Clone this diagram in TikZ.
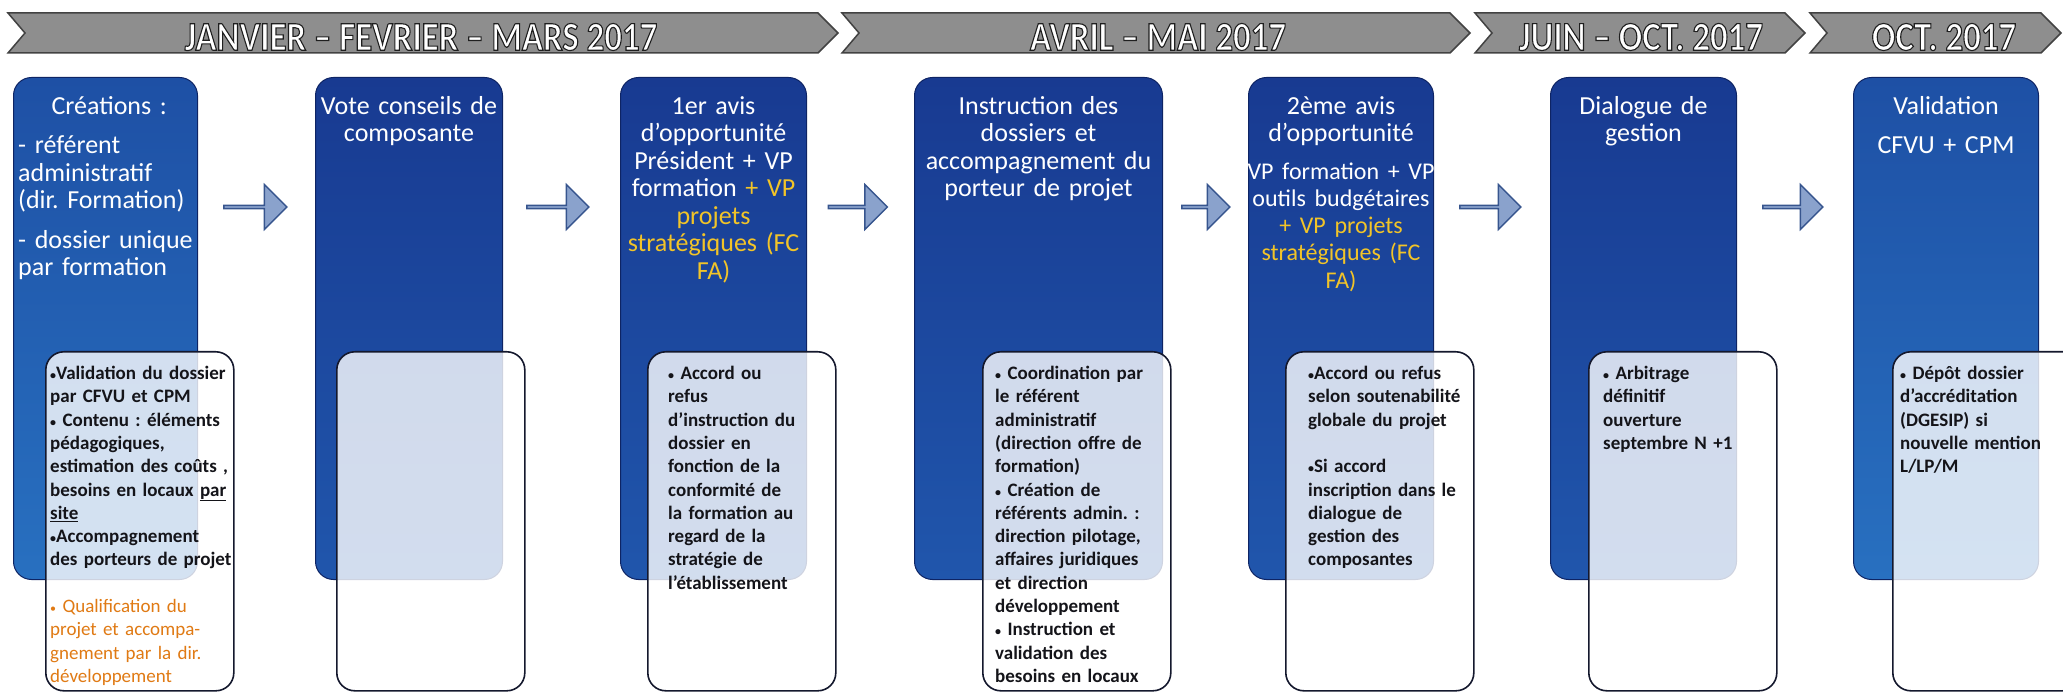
\documentclass[tikz,border=0pt]{standalone}
\usepackage{fontspec}
\setmainfont{Carlito}
\newfontfamily\bannerfont[FakeStretch=0.85]{Carlito}
\usetikzlibrary{shapes.arrows,calc}
\frenchspacing
\definecolor{boxtop}{RGB}{24,58,145}
\definecolor{boxbot}{RGB}{32,86,172}
\definecolor{boxtopL}{RGB}{30,80,165}
\definecolor{boxbotL}{RGB}{40,112,192}
\definecolor{boxedge}{RGB}{14,36,100}
\definecolor{cardedge}{RGB}{20,24,45}
\definecolor{cardtext}{RGB}{20,20,25}
\definecolor{yel}{RGB}{242,196,40}
\definecolor{orng}{RGB}{224,122,20}
\definecolor{bannerfill}{RGB}{142,142,142}
\definecolor{banneredge}{RGB}{66,66,66}
\definecolor{arrowfill}{RGB}{138,162,204}
\definecolor{arrowedge}{RGB}{55,85,142}
\newcommand\outlined[1]{\special{pdf:literal direct 2 Tr 1.1 w 0.12 0.12 0.12 RG}#1\special{pdf:literal direct 0 Tr}}
\newcommand\bu{{\fontsize{12}{12}\selectfont•}}
\tikzset{
  bannerpath/.style={fill=bannerfill, draw=banneredge, line width=1.5pt, line join=miter},
  bannertxt/.style={font=\bannerfont\bfseries\fontsize{41}{44}\selectfont, text=white, inner sep=0pt},
  bluebox/.style={draw=boxedge, line width=1pt, rounded corners=18pt, top color=boxtop, bottom color=boxbot, minimum width=#1, minimum height=502pt, inner sep=0pt, anchor=north west},
  lightbox/.style={top color=boxtopL, bottom color=boxbotL},
  cardbox/.style={draw=cardedge, line width=1.6pt, rounded corners=18pt, fill=white, fill opacity=0.8, draw opacity=1, minimum width=188pt, minimum height=339pt, inner sep=0pt, anchor=north west},
  titletxt/.style={text=white, font=\fontsize{26}{27.5}\selectfont, text width=230pt, align=center, inner sep=0pt, anchor=north},
  cardtxt/.style={text=cardtext, font=\fontsize{19}{23.3}\selectfont\bfseries, text width=230pt, align=left, inner sep=0pt, anchor=north west},
  blockarrow/.style={single arrow, single arrow head extend=9pt, minimum width=45pt, inner sep=0pt, fill=arrowfill, draw=arrowedge, line width=1.4pt}
}
\begin{document}
\begin{tikzpicture}[x=1pt,y=-1pt]
\useasboundingbox (0,0) rectangle (2063,692);
\clip (0,0) rectangle (2063,692);
% banner
\path[bannerpath] (8,13) -- (818,13) -- (838,33) -- (818,53) -- (8,53) -- (25,33) -- cycle;
\path[bannerpath] (842,13) -- (1450,13) -- (1470,33) -- (1450,53) -- (842,53) -- (859,33) -- cycle;
\path[bannerpath] (1475,13) -- (1785,13) -- (1805,33) -- (1785,53) -- (1475,53) -- (1492,33) -- cycle;
\path[bannerpath] (1810,13) -- (2041,13) -- (2061,33) -- (2041,53) -- (1810,53) -- (1827,33) -- cycle;
\node[bannertxt] (t1) at (421,37) {\outlined{JANVIER – FEVRIER – MARS 2017}};
\node[bannertxt] (t2) at (1158,37) {\outlined{AVRIL – MAI 2017}};
\node[bannertxt] (t3) at (1641,37) {\outlined{JUIN – OCT. 2017}};
\node[bannertxt] (t4) at (1944,37) {\outlined{OCT. 2017}};
% blue boxes
\node[bluebox=184pt, lightbox] (b1) at (13,77) {};
\node[bluebox=187pt] (b2) at (315,77) {};
\node[bluebox=186pt] (b3) at (620,77) {};
\node[bluebox=248pt] (b4) at (914,77) {};
\node[bluebox=185pt] (b5) at (1248,77) {};
\node[bluebox=186pt] (b6) at (1550,77) {};
\node[bluebox=185pt, lightbox] (b7) at (1853,77) {};
% titles
\node[titletxt, text width=182pt, align=left, anchor=north west] (b1t) at ($(b1.north west)+(5,19)$)
  {{\centering Créations :\par}\vspace{12pt}- référent\\administratif\\(dir. Formation)\par\vspace{12pt}- dossier unique\\par formation};
\node[titletxt] (b2t) at ($(b2.north)+(0,19)$) {Vote conseils de\\composante};
\node[titletxt] (b3t) at ($(b3.north)+(0,19)$) {1er avis\\d’opportunité\\Président + VP\\formation \textcolor{yel}{+ VP}\\\textcolor{yel}{projets\\stratégiques (FC\\FA)}};
\node[titletxt] (b4t) at ($(b4.north)+(0,19)$) {Instruction des\\dossiers et\\accompagnement du\\porteur de projet};
\node[titletxt] (b5t) at ($(b5.north)+(0,19)$) {2ème avis\\d’opportunité\par\vspace{11pt}\fontsize{24}{27}\selectfont VP formation + VP\\outils budgétaires\\\textcolor{yel}{+ VP projets\\stratégiques (FC\\FA)}};
\node[titletxt] (b6t) at ($(b6.north)+(0,19)$) {Dialogue de\\gestion};
\node[titletxt] (b7t) at ($(b7.north)+(0,19)$) {Validation\par\vspace{12pt}CFVU + CPM};
% arrows
\node[blockarrow, minimum height=63pt] (a1) at (254.5,207) {};
\node[blockarrow, minimum height=62pt] (a2) at (557,207) {};
\node[blockarrow, minimum height=59pt] (a3) at (857,207) {};
\node[blockarrow, minimum height=48pt] (a4) at (1205,207) {};
\node[blockarrow, minimum height=61pt] (a5) at (1489.5,207) {};
\node[blockarrow, minimum height=60pt] (a6) at (1792,207) {};
% cards
\node[cardbox] (c1) at (45,351) {};
\node[cardbox] (c2) at (336,351) {};
\node[cardbox] (c3) at (647,351) {};
\node[cardbox] (c4) at (982,351) {};
\node[cardbox] (c5) at (1285,351) {};
\node[cardbox] (c6) at (1588,351) {};
\node[cardbox] (c7) at (1892,351) {};
% card texts
\node[cardtxt] (c1t) at ($(c1.north west)+(5,15)$) {\bu Validation du dossier\\par CFVU et CPM\\\bu{} Contenu : éléments\\pédagogiques,\\estimation des coûts ,\\besoins en locaux \underline{par}\\\underline{site}\\\bu Accompagnement\\des porteurs de projet\\[23.3pt]{\mdseries\color{orng}\bu{} Qualification du\\projet et accompa-\\gnement par la dir.\\développement}};
\node[cardtxt] (c3t) at ($(c3.north west)+(21,15)$) {\bu{} Accord ou\\refus\\d’instruction du\\dossier en\\fonction de la\\conformité de\\la formation au\\regard de la\\stratégie de\\l’établissement};
\node[cardtxt] (c4t) at ($(c4.north west)+(13,15)$) {\bu{} Coordination par\\le référent\\administratif\\(direction offre de\\formation)\\\bu{} Création de\\référents admin. :\\direction pilotage,\\affaires juridiques\\et direction\\développement\\\bu{} Instruction et\\validation des\\besoins en locaux};
\node[cardtxt] (c5t) at ($(c5.north west)+(23,15)$) {\bu Accord ou refus\\selon soutenabilité\\globale du projet\\[23.3pt]\bu Si accord\\inscription dans le\\dialogue de\\gestion des\\composantes};
\node[cardtxt] (c6t) at ($(c6.north west)+(15,15)$) {\bu{} Arbitrage\\définitif\\ouverture\\septembre N +1};
\node[cardtxt] (c7t) at ($(c7.north west)+(8,15)$) {\bu{} Dépôt dossier\\d’accréditation\\(DGESIP) si\\nouvelle mention\\L/LP/M};
\end{tikzpicture}
\end{document}
